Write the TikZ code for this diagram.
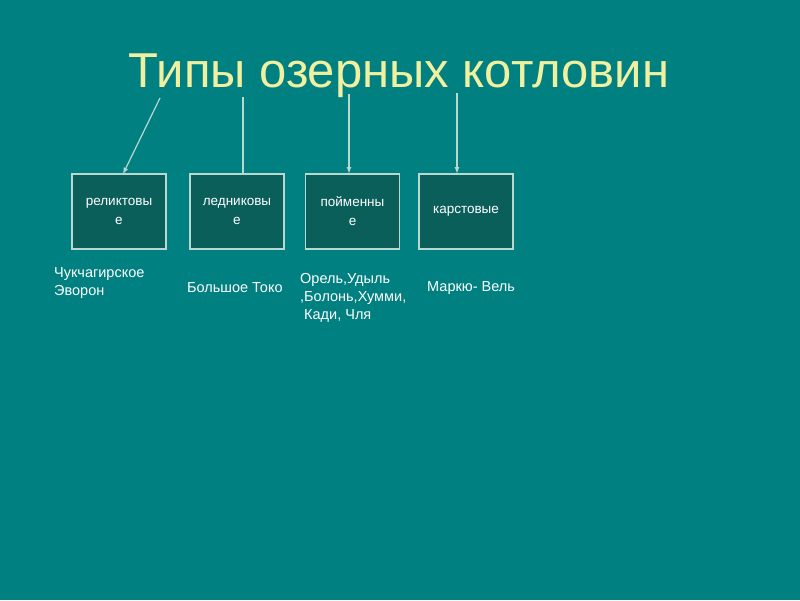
\documentclass[tikz,border=0pt]{standalone}
\usepackage{fontspec}
\setmainfont{Liberation Sans}
\begin{document}
\begin{tikzpicture}[x=1pt,y=-1pt,
  box/.style={draw=boxline,fill=boxfill,line width=1.2pt,minimum width=94pt,minimum height=75pt,inner sep=0pt,text=white,font=\fontsize{13.5}{19}\selectfont,align=center},
  lbl/.style={text=white,font=\fontsize{14.5}{18}\selectfont,align=left,inner sep=0pt},
  conn/.style={draw=boxline,line width=1.2pt},
  arr/.style={conn,-latex}]
\definecolor{bg}{HTML}{008080}
\definecolor{boxfill}{HTML}{0B5F5B}
\definecolor{boxline}{HTML}{B8D8D0}
\definecolor{ttl}{HTML}{F0F0A0}
\fill[bg] (0,0) rectangle (800,600);
\useasboundingbox (0,0) rectangle (800,600);
\node[text=ttl,font=\fontsize{49}{55}\selectfont] (t) at (399,76) {Типы озерных котловин};
\node[box] (b1) at (119,211.5) {реликтовы\\е};
\node[box] (b2) at (237,211.5) {ледниковы\\е};
\node[box] (b3) at (352.5,211.5) {пойменны\\е};
\node[box] (b4) at (466,211.5) {карстовые};
\coordinate (s1) at (160,98);
\coordinate (s2) at (243,97);
\coordinate (s3) at (349,94);
\coordinate (s4) at (457,93);
\draw[arr] (s1) -- (123,174);
\draw[conn] (s2) -- (s2 |- b2.north);
\draw[arr] (s3) -- (s3 |- b3.north);
\draw[arr] (s4) -- (s4 |- b4.north);
\node[lbl,anchor=north west] (l1) at (54,267) {Чукчагирское\\Эворон};
\node[lbl,anchor=west] (l2) at (187,288) {Большое Токо};
\node[lbl,anchor=north west] (l3) at (300,273) {Орель,Удыль\\,Болонь,Хумми,\\\ Кади, Чля};
\node[lbl,anchor=west] (l4) at (427,288) {Маркю- Вель};
\end{tikzpicture}
\end{document}
